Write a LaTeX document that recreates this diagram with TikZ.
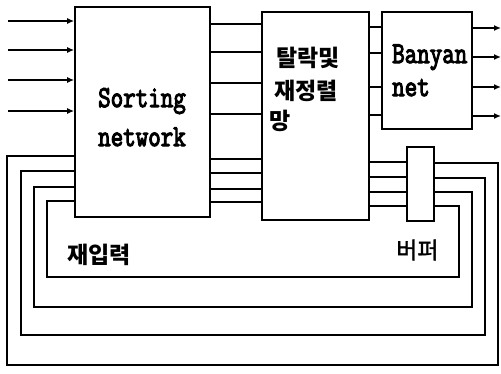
\documentclass[tikz,border=0pt]{standalone}
\usepackage{fontspec}
\usepackage{graphicx}
\usetikzlibrary{arrows.meta}
\newfontfamily\monofnt{Latin Modern Mono}[FakeBold=4]
\newfontfamily\krfnt{Noto Sans CJK KR}
\newfontfamily\krlfnt{Noto Sans CJK KR}[FakeBold=1.5]
\newcommand{\tall}[1]{\scalebox{1}[1.25]{#1}}
\tikzset{
  box/.style={draw, line width=1.7pt, rectangle, inner sep=0pt},
  wire/.style={line width=1.5pt},
  arr/.style={line width=1.5pt, -{Latex[length=7pt,width=6pt]}},
  eng/.style={inner sep=0pt, anchor=base west, font=\monofnt\fontsize{24.3}{26}\selectfont},
  kor/.style={inner sep=0pt, anchor=west, font=\krfnt\bfseries\fontsize{23}{26}\selectfont},
  korl/.style={inner sep=0pt, anchor=west, font=\krlfnt\fontsize{23}{26}\selectfont}
}
\begin{document}
\begin{tikzpicture}[x=1pt,y=-1pt]
\useasboundingbox (0,0) rectangle (501,373);
% boxes
\node[box, minimum width=135pt, minimum height=210pt] (sort) at (142.5,112) {};
\node[box, minimum width=107pt, minimum height=208pt] (mid) at (315.5,116) {};
\node[box, minimum width=90pt, minimum height=117pt] (ban) at (427,70.5) {};
\node[box, minimum width=27pt, minimum height=74pt] (buf) at (420.5,184) {};
% texts
\node[eng] (t1) at (98,107) {\tall{Sorting}};
\node[eng] (t2) at (98,146) {\tall{network}};
\node[eng] (t3) at (392,63) {\tall{Banyan}};
\node[eng] (t4) at (392,96) {\tall{net}};
\node[kor] (k1) at (276,58) {탈락및};
\node[kor] (k2) at (274,91) {재정렬};
\node[kor] (k3) at (269,121) {망};
\node[kor] (k4) at (67,255) {재입력};
\node[korl] (k5) at (396,250) {버퍼};
% inputs
\foreach \y [count=\i] in {21,50,80,111} {
  \coordinate (in\i) at (8,\y);
  \draw[arr] (in\i) -- (in\i -| sort.west);
}
% outputs
\foreach \y [count=\i] in {28,57,87,116} {
  \coordinate (out\i) at (501,\y);
  \draw[arr] (ban.east |- out\i) -- (out\i);
}
% sorting -> middle
\foreach \y in {24,52,83,114,159,173,189,202} {
  \draw[wire] (sort.east |- 0,\y) -- (mid.west |- 0,\y);
}
% middle -> banyan
\foreach \y in {27,53,87,115} {
  \draw[wire] (mid.east |- 0,\y) -- (ban.west |- 0,\y);
}
% middle -> buffer
\foreach \y in {162,177,192,206} {
  \draw[wire] (mid.east |- 0,\y) -- (buf.west |- 0,\y);
}
% feedback loops
\draw[wire] (buf.east |- 0,163) -| (498,365) -| (7,156) -- (sort.west |- 0,156);
\draw[wire] (buf.east |- 0,178) -| (485,335) -| (21,171) -- (sort.west |- 0,171);
\draw[wire] (buf.east |- 0,192) -| (472,307) -| (34,187) -- (sort.west |- 0,187);
\draw[wire] (buf.east |- 0,206) -| (459,277) -| (47,201) -- (sort.west |- 0,201);
\end{tikzpicture}
\end{document}
